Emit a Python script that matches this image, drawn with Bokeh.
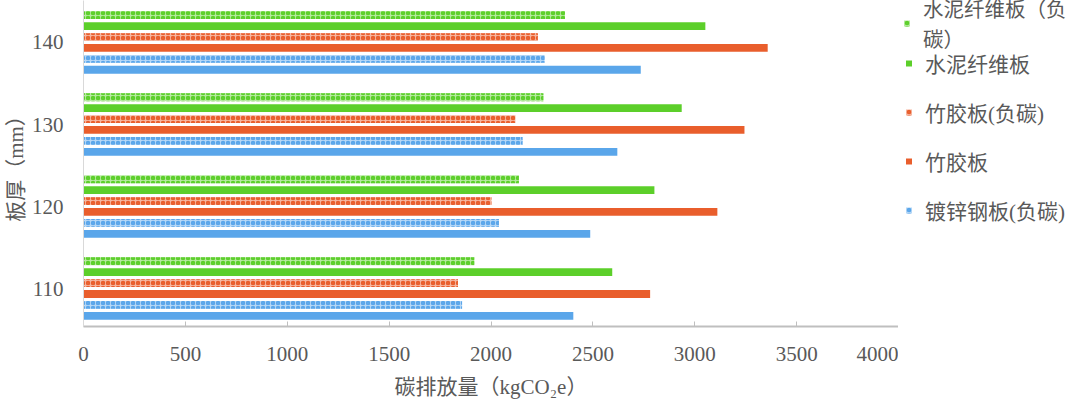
from bokeh.plotting import figure
from bokeh.models import ColumnDataSource, Range1d, FixedTicker, Legend, LegendItem
from bokeh.layouts import row
from bokeh.transform import dodge
from bokeh.embed import file_html
from bokeh.resources import INLINE

# ---- data ----
thickness = [110, 120, 130, 140]
thickness_labels = ["110", "120", "130", "140"]
steel = [2404, 2487, 2620, 2735]            # 镀锌钢板
steel_neg = [1858, 2039, 2155, 2263]        # 镀锌钢板(负碳)
bamboo = [2781, 3111, 3244, 3358]           # 竹胶板
bamboo_neg = [1838, 2002, 2120, 2230]       # 竹胶板(负碳)
cement = [2595, 2802, 2936, 3052]           # 水泥纤维板
cement_neg = [1918, 2137, 2257, 2363]       # 水泥纤维板（负碳）
x_ticks = [0, 500, 1000, 1500, 2000, 2500, 3000, 3500, 4000]

BLUE = "#5AA6EA"
ORANGE = "#E95E2C"
GREEN = "#5CCF2A"
TEXT = "#595959"
FONT = "'Liberation Serif', 'Noto Sans CJK SC'"

src = ColumnDataSource(dict(
    thickness=thickness, steel=steel, steel_neg=steel_neg, bamboo=bamboo,
    bamboo_neg=bamboo_neg, cement=cement, cement_neg=cement_neg))

p = figure(width=898, height=408, output_backend="svg", toolbar_location=None,
           x_range=Range1d(0, 4000), y_range=Range1d(105.37, 145.12),
           min_border_left=83, min_border_right=0, min_border_top=0,
           min_border_bottom=82)
p.outline_line_color = None
p.xgrid.visible = False
p.ygrid.visible = False
p.background_fill_color = "white"
p.border_fill_color = "white"

BAR_H = 0.95
PITCH = 1.33

def pattern_kw(color):
    return dict(fill_color=color, fill_alpha=0.45, hatch_pattern="o", hatch_color=color,
                hatch_scale=5, hatch_weight=2, line_color=None)

def solid_kw(color):
    return dict(fill_color=color, line_color=None)

specs = [
    ("steel", BLUE, False, -2.5),
    ("steel_neg", BLUE, True, -1.5),
    ("bamboo", ORANGE, False, -0.5),
    ("bamboo_neg", ORANGE, True, 0.5),
    ("cement", GREEN, False, 1.5),
    ("cement_neg", GREEN, True, 2.5),
]
for col, color, patt, k in specs:
    kw = pattern_kw(color) if patt else solid_kw(color)
    p.hbar(y=dodge("thickness", k * PITCH, range=p.y_range), left=0, right=col,
           height=BAR_H, source=src, **kw)

# axes
xa = p.xaxis[0]
xa.ticker = FixedTicker(ticks=x_ticks)
xa.axis_line_color = "#BFBFBF"
xa.axis_line_width = 2
xa.major_tick_in = 5
xa.major_tick_out = 0
xa.major_tick_line_color = "#BFBFBF"
xa.minor_tick_line_color = None
xa.major_label_text_font = FONT
xa.major_label_text_font_size = "21px"
xa.major_label_text_color = TEXT
xa.major_label_standoff = 20
xa.axis_label = "碳排放量（kgCO₂e）"
xa.axis_label_text_font = FONT
xa.axis_label_text_font_size = "21px"
xa.axis_label_text_font_style = "normal"
xa.axis_label_text_color = TEXT
xa.axis_label_standoff = 11

ya = p.yaxis[0]
ya.ticker = FixedTicker(ticks=thickness)
ya.major_label_overrides = {t: s for t, s in zip(thickness, thickness_labels)}
ya.axis_line_color = "#D9D9D9"
ya.axis_line_width = 1
ya.major_tick_line_color = None
ya.minor_tick_line_color = None
ya.major_label_text_font = FONT
ya.major_label_text_font_size = "21px"
ya.major_label_text_color = TEXT
ya.major_label_standoff = 14
ya.axis_label = "板厚（mm）"
ya.axis_label_text_font = FONT
ya.axis_label_text_font_size = "21px"
ya.axis_label_text_font_style = "normal"
ya.axis_label_text_color = TEXT
ya.axis_label_standoff = 1

# ---- legend panel (separate blank figure on the right) ----
# its ranges lie outside the data, so the renderers only provide legend swatches
lp = figure(width=182, height=408, output_backend="svg", toolbar_location=None,
            x_range=Range1d(-2, -1), y_range=Range1d(-2, -1),
            min_border=0, min_border_left=0, min_border_right=0,
            min_border_top=0, min_border_bottom=0)
lp.axis.visible = False
lp.grid.visible = False
lp.outline_line_color = None
lp.background_fill_color = "white"
lp.border_fill_color = "white"

r_cement_neg = lp.scatter("cement_neg", "thickness", source=src, marker="square", **pattern_kw(GREEN))
r_cement = lp.scatter("cement", "thickness", source=src, marker="square", **solid_kw(GREEN))
r_bamboo_neg = lp.scatter("bamboo_neg", "thickness", source=src, marker="square", **pattern_kw(ORANGE))
r_bamboo = lp.scatter("bamboo", "thickness", source=src, marker="square", **solid_kw(ORANGE))
r_steel_neg = lp.scatter("steel_neg", "thickness", source=src, marker="square", **pattern_kw(BLUE))

def style_legend(lg):
    lg.border_line_color = None
    lg.background_fill_alpha = 0
    lg.padding = 0
    lg.margin = 0
    lg.label_text_font = FONT
    lg.label_text_font_size = "21px"
    lg.label_text_color = TEXT
    lg.label_text_line_height = 1.1
    lg.glyph_width = 15
    lg.glyph_height = 26
    lg.label_height = 26
    lg.label_standoff = 9

legA = Legend(items=[LegendItem(label="水泥纤维板（负\n碳）", renderers=[r_cement_neg], index=0)],
              location=(1, 273))
style_legend(legA)
legA.label_text_font_size = "20.5px"
legB = Legend(items=[LegendItem(label="水泥纤维板", renderers=[r_cement], index=0),
                     LegendItem(label="竹胶板(负碳)", renderers=[r_bamboo_neg], index=0),
                     LegendItem(label="竹胶板", renderers=[r_bamboo], index=0),
                     LegendItem(label="镀锌钢板(负碳)", renderers=[r_steel_neg], index=0)],
              location=(3, 101))
style_legend(legB)
legB.spacing = 19
lp.add_layout(legA)
lp.add_layout(legB)

layout = row(p, lp, spacing=0)
open("out.html", "w").write(file_html(layout, INLINE))
